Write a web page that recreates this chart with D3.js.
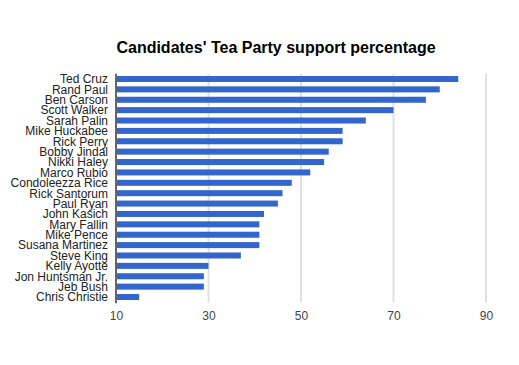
<!DOCTYPE html>
<html><head><meta charset="utf-8">
<script src="https://cdn.jsdelivr.net/npm/d3@7"></script>
<style>body{margin:0;background:#fff;}svg{display:block;font-family:"Liberation Sans",Arial,sans-serif;}</style>
</head><body>
<svg id="c" width="519" height="365"></svg>
<script>
const candidates = ["Ted Cruz","Rand Paul","Ben Carson","Scott Walker","Sarah Palin","Mike Huckabee","Rick Perry","Bobby Jindal","Nikki Haley","Marco Rubio","Condoleezza Rice","Rick Santorum","Paul Ryan","John Kasich","Mary Fallin","Mike Pence","Susana Martinez","Steve King","Kelly Ayotte","Jon Huntsman Jr.","Jeb Bush","Chris Christie"];
const support = [84,80,77,70,64,59,59,56,55,52,48,46,45,42,41,41,41,37,30,29,29,15];
const xTicks = [10,30,50,70,90];
const title = "Candidates' Tea Party support percentage";

(function(){
const svg = d3.select("#c");
const pL = 116, pR = 486, pT = 73.8, pB = 302.2;
const x = d3.scaleLinear().domain([10,90]).range([pL,pR]);
const y = d3.scaleBand().domain(candidates).range([pT,pB]).paddingInner(0.42).paddingOuter(0.21);

svg.append("text").attr("x",276).attr("y",53).attr("text-anchor","middle")
  .attr("font-size",16).attr("font-weight","bold").attr("fill","#000").text(title);

svg.append("g").selectAll("line").data(xTicks.slice(1)).join("line")
  .attr("x1",d=>x(d)).attr("x2",d=>x(d)).attr("y1",pT).attr("y2",pB)
  .attr("stroke","#e0e0e0").attr("stroke-width",2);

svg.append("g").selectAll("rect").data(candidates).join("rect")
  .attr("x",x(10)).attr("y",d=>y(d))
  .attr("width",(d,i)=>x(support[i])-x(10)).attr("height",y.bandwidth())
  .attr("fill","#3366cc");

svg.append("line").attr("x1",pL).attr("x2",pL).attr("y1",pT).attr("y2",pB+1)
  .attr("stroke","#666").attr("stroke-width",2);

svg.append("g").selectAll("text").data(candidates).join("text")
  .attr("x",108).attr("y",d=>y(d)+y.bandwidth()/2).attr("dy","0.36em")
  .attr("text-anchor","end").attr("font-size",12).attr("fill","#222").text(d=>d);

const xAxis = d3.axisBottom(x).tickValues(xTicks).tickSize(0).tickPadding(0);
const gx = svg.append("g").attr("transform",`translate(0,${pB})`).call(xAxis);
gx.select(".domain").remove();
gx.selectAll("text").attr("font-size",12).attr("fill","#444").attr("font-family","\"Liberation Sans\",Arial,sans-serif")
  .attr("y",18).attr("dy","0");
})();
</script>
</body></html>
